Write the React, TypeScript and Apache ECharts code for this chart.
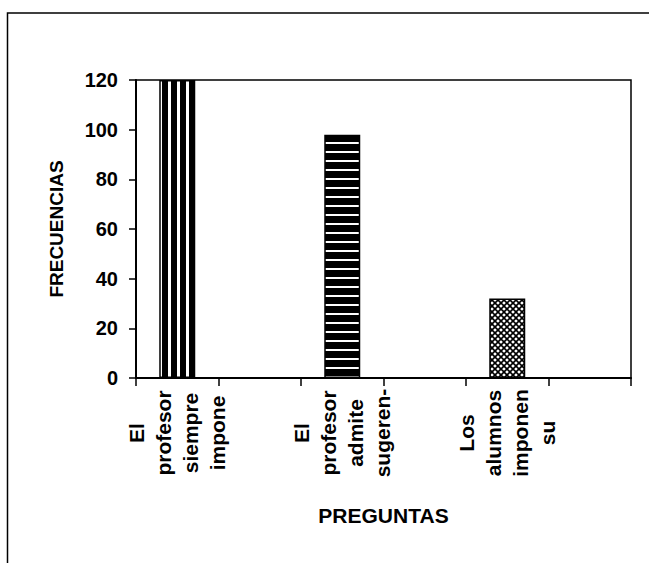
import React, { useEffect, useRef } from "react";
import * as echarts from "echarts";

const categories = [
  "El\nprofesor\nsiempre\nimpone",
  "",
  "El\nprofesor\nadmite\nsugeren-",
  "",
  "Los\nalumnos\nimponen\nsu",
  "",
];
const frequencies: (number | null)[] = [120, null, 98, null, 32, null];
const patternKinds = ["vertical", "none", "horizontal", "none", "cross", "none"];
const yTicks = { min: 0, max: 120, interval: 20 };
const xAxisTitle = "PREGUNTAS";
const yAxisTitle = "FRECUENCIAS";

function makePattern(kind: string): HTMLCanvasElement {
  const c = document.createElement("canvas");
  if (kind === "vertical") {
    c.width = 9;
    c.height = 4;
    const g = c.getContext("2d")!;
    g.fillStyle = "#000";
    g.fillRect(0, 0, 9, 4);
    g.fillStyle = "#fff";
    g.fillRect(6, 0, 3, 4);
  } else if (kind === "horizontal") {
    c.width = 4;
    c.height = 9;
    const g = c.getContext("2d")!;
    g.fillStyle = "#000";
    g.fillRect(0, 0, 4, 9);
    g.fillStyle = "#fff";
    g.fillRect(0, 7, 4, 2);
  } else {
    c.width = 6;
    c.height = 6;
    const g = c.getContext("2d")!;
    g.fillStyle = "#fff";
    g.fillRect(0, 0, 6, 6);
    g.strokeStyle = "#000";
    g.lineWidth = 1.6;
    g.beginPath();
    g.moveTo(-1, -1);
    g.lineTo(7, 7);
    g.moveTo(-1, 7);
    g.lineTo(7, -1);
    g.stroke();
  }
  return c;
}

const FONT = "'Liberation Sans', Arial, sans-serif";

export default function App() {
  const ref = useRef<HTMLDivElement>(null);
  useEffect(() => {
    if (!ref.current) return;
    const chart = echarts.init(ref.current, undefined, { renderer: "svg" });
    const data = frequencies.map((v, i) =>
      v == null
        ? null
        : {
            value: v,
            itemStyle: {
              color: { image: makePattern(patternKinds[i]), repeat: "repeat" },
              borderColor: "#000",
              borderWidth: 1.5,
            },
          }
    );
    chart.setOption({
      animation: false,
      backgroundColor: "#fff",
      graphic: [
        {
          type: "rect",
          shape: { x: 7.5, y: 13, width: 700, height: 600 },
          style: { fill: "none", stroke: "#000", lineWidth: 1.5 },
          silent: true,
        },
      ],
      grid: {
        left: 136,
        top: 80,
        width: 495,
        height: 298,
        show: true,
        borderColor: "#000",
        borderWidth: 1.5,
        backgroundColor: "transparent",
      },
      xAxis: {
        type: "category",
        data: categories,
        name: xAxisTitle,
        nameLocation: "middle",
        nameGap: 127,
        nameTextStyle: { fontFamily: FONT, fontWeight: "bold", fontSize: 21, color: "#000" },
        axisLine: { lineStyle: { color: "#000", width: 2 } },
        axisTick: { show: true, length: 8, lineStyle: { color: "#000", width: 1.5 } },
        axisLabel: {
          interval: 0,
          rotate: 90,
          align: "center",
          verticalAlign: "middle",
          margin: 55,
          lineHeight: 27,
          fontFamily: FONT,
          fontWeight: "bold",
          fontSize: 21,
          color: "#000",
        },
      },
      yAxis: {
        type: "value",
        min: yTicks.min,
        max: yTicks.max,
        interval: yTicks.interval,
        name: yAxisTitle,
        nameLocation: "middle",
        nameGap: 70,
        nameTextStyle: { fontFamily: FONT, fontWeight: "bold", fontSize: 19, color: "#000" },
        splitLine: { show: false },
        axisLine: { show: true, lineStyle: { color: "#000", width: 2 } },
        axisTick: { show: true, length: 7, lineStyle: { color: "#000", width: 1.5 } },
        axisLabel: {
          margin: 18,
          fontFamily: FONT,
          fontWeight: "bold",
          fontSize: 20,
          color: "#000",
        },
      },
      series: [
        {
          type: "bar",
          data,
          barWidth: 36,
          clip: true,
        },
      ],
    });
    return () => chart.dispose();
  }, []);
  return (
    <div
      ref={ref}
      style={{ position: "fixed", left: 0, top: 0, width: 649, height: 563, background: "#fff" }}
    />
  );
}
